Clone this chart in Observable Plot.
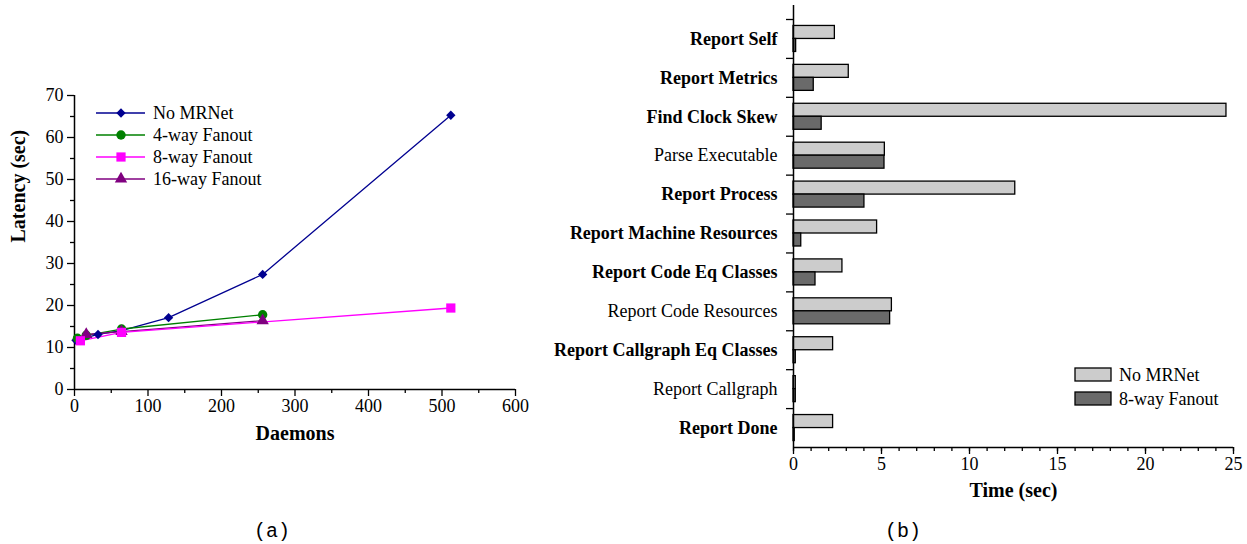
<!DOCTYPE html>
<html><head><meta charset="utf-8">
<script src="https://cdn.jsdelivr.net/npm/d3@7"></script>
<script src="https://cdn.jsdelivr.net/npm/@observablehq/plot@0.6"></script>
<style>
body{margin:0;background:#fff;}
#wrap{position:relative;width:1247px;height:544px;overflow:hidden;background:#fff;font-family:"Liberation Serif","Times New Roman",serif;}
#wrap > svg, #wrap > div{position:absolute;}
.cap{font-family:"Liberation Mono","Courier New",monospace;font-size:20px;line-height:24px;color:#000;}
</style></head><body><div id="wrap"></div>
<script>
// ---------- (a) latency vs daemons ----------
const seriesNames = ["No MRNet", "4-way Fanout", "8-way Fanout", "16-way Fanout"];
const seriesColors = ["#000090", "#008000", "#ff00ff", "#800080"];
const seriesSymbols = ["diamond2", "circle", "square", "triangle"];
const seriesSizes = [4.2, 4.7, 5.2, 4.6];
const daemonsNoMRNet = [2, 32, 64, 128, 256, 512];
const latencyNoMRNet = [11.7, 13.1, 14.0, 17.1, 27.4, 65.3];
const daemons4way = [4, 16, 64, 256];
const latency4way = [12.2, 12.9, 14.4, 17.8];
const daemons8way = [8, 64, 512];
const latency8way = [11.6, 13.6, 19.4];
const daemons16way = [16, 64, 256];
const latency16way = [13.1, 13.8, 16.4];
const latencyTicks = [0, 10, 20, 30, 40, 50, 60, 70];
const daemonTicks = [0, 100, 200, 300, 400, 500, 600];

// ---------- (b) time per phase ----------
const phases = ["Report Self", "Report Metrics", "Find Clock Skew", "Parse Executable", "Report Process",
  "Report Machine Resources", "Report Code Eq Classes", "Report Code Resources",
  "Report Callgraph Eq Classes", "Report Callgraph", "Report Done"];
const phaseBold = [true, true, true, false, true, true, true, false, true, false, true];
const timeNoMRNet = [2.35, 3.14, 24.6, 5.19, 12.6, 4.75, 2.78, 5.59, 2.25, 0.13, 2.25];
const time8way = [0.15, 1.15, 1.6, 5.17, 4.03, 0.44, 1.25, 5.49, 0.13, 0.13, 0.07];
const timeTicks = [0, 5, 10, 15, 20, 25];
const barNames = ["No MRNet", "8-way Fanout"];
const barColors = ["#cccccc", "#6a6a6a"];

const FONT = "Liberation Serif, Times New Roman, serif";
const wrap = document.getElementById("wrap");

const pts = [
  [daemonsNoMRNet, latencyNoMRNet],
  [daemons4way, latency4way],
  [daemons8way, latency8way],
  [daemons16way, latency16way]
].map(([xs, ys], s) => xs.map((x, i) => ({series: seriesNames[s], x, y: ys[i]})));

const lineMarks = [];
[0, 1, 3, 2].forEach(s => {
  lineMarks.push(Plot.line(pts[s], {x: "x", y: "y", stroke: seriesColors[s], strokeWidth: 1.3}));
});
[0, 1, 3, 2].forEach(s => {
  lineMarks.push(Plot.dot(pts[s], {x: "x", y: "y", symbol: () => seriesSymbols[s], fill: seriesColors[s], stroke: "none", r: seriesSizes[s]}));
});

const left = Plot.plot({
  width: 530, height: 460,
  marginLeft: 74, marginRight: 15, marginTop: 95, marginBottom: 71,
  style: {fontFamily: FONT, fontSize: "18px", color: "#000", background: "transparent"},
  x: {domain: [0, 600]},
  y: {domain: [0, 70]},
  symbol: {type: "identity"},
  marks: [
    Plot.axisY({ticks: latencyTicks, tickSize: 7, tickPadding: 4, label: null, fontSize: 18, strokeWidth: 1.3}),
    Plot.axisY({ticks: d3.range(5, 70, 10), tickSize: 4, text: null, label: null, strokeWidth: 1.3}),
    Plot.axisX({ticks: daemonTicks, tickSize: 7, tickPadding: 3, label: null, fontSize: 18, strokeWidth: 1.3}),
    Plot.axisX({ticks: d3.range(50, 600, 100), tickSize: 4, text: null, label: null, strokeWidth: 1.3}),
    Plot.ruleX([0], {strokeWidth: 1.5}),
    Plot.ruleY([0], {strokeWidth: 1.5}),
    ...lineMarks,
    Plot.text(["Latency (sec)"], {text: d => d, frameAnchor: "left", dx: -56, rotate: -90, fontWeight: "bold", fontSize: 20}),
    Plot.text(["Daemons"], {text: d => d, frameAnchor: "bottom", dy: 50, fontWeight: "bold", fontSize: 20})
  ]
});
left.style.left = "0px"; left.style.top = "0px";
wrap.appendChild(left);

// legend (a)
const legA = d3.create("svg").attr("width", 220).attr("height", 100)
  .style("left", "90px").style("top", "100px");
const symMap = {diamond2: d3.symbolDiamond2, circle: d3.symbolCircle, square: d3.symbolSquare, triangle: d3.symbolTriangle};
seriesNames.forEach((name, i) => {
  const cy = 13 + i * 22;
  legA.append("line").attr("x1", 6).attr("x2", 55).attr("y1", cy).attr("y2", cy)
    .attr("stroke", seriesColors[i]).attr("stroke-width", 1.3);
  legA.append("path").attr("transform", `translate(31,${cy})`)
    .attr("d", d3.symbol(symMap[seriesSymbols[i]], Math.PI * seriesSizes[i] * seriesSizes[i])())
    .attr("fill", seriesColors[i]);
  legA.append("text").attr("x", 63).attr("y", cy).attr("dy", "0.35em")
    .attr("font-family", FONT).attr("font-size", 18).text(name);
});
wrap.appendChild(legA.node());

// ---------- (b) ----------
const rows = phases.map((p, i) => ({phase: p, bold: phaseBold[i], a: timeNoMRNet[i], b: time8way[i]}));
const bw = (447 - 19) / phases.length;

const right = Plot.plot({
  width: 717, height: 520,
  marginLeft: 263, marginRight: 14, marginTop: 5, marginBottom: 73,
  style: {fontFamily: FONT, fontSize: "18px", color: "#000", background: "transparent"},
  x: {domain: [0, 25]},
  y: {type: "band", domain: phases, range: [19, 447], padding: 0, round: false, axis: null},
  marks: [
    Plot.barX(rows, {y: "phase", x1: 0, x2: "a", insetTop: bw / 2 - 13, insetBottom: bw / 2, fill: barColors[0], stroke: "#000", strokeWidth: 1.3}),
    Plot.barX(rows, {y: "phase", x1: 0, x2: "b", insetTop: bw / 2, insetBottom: bw / 2 - 13, fill: barColors[1], stroke: "#000", strokeWidth: 1.3}),
    Plot.axisX({ticks: timeTicks, tickSize: 7, tickPadding: 3, label: null, fontSize: 18, strokeWidth: 1.3}),
    Plot.axisX({ticks: d3.range(0, 26, 1), tickSize: 4, text: null, label: null, strokeWidth: 1.3}),
    Plot.ruleX([0], {strokeWidth: 1.5}),
    Plot.ruleY(phases, {y: d => d, x1: 0, x2: 0, insetLeft: -7, dy: -bw / 2, strokeWidth: 1.3}),
    Plot.ruleY([phases[phases.length - 1]], {y: d => d, x1: 0, x2: 25, dy: bw / 2, strokeWidth: 1.5}),
    Plot.text(rows.filter(d => d.bold), {y: "phase", text: "phase", frameAnchor: "left", dx: -16, textAnchor: "end", fontWeight: "bold", fontSize: 18}),
    Plot.text(rows.filter(d => !d.bold), {y: "phase", text: "phase", frameAnchor: "left", dx: -16, textAnchor: "end", fontSize: 18}),
    Plot.text(["Time (sec)"], {text: d => d, frameAnchor: "bottom", dy: 49, fontWeight: "bold", fontSize: 20})
  ]
});
right.style.left = "530px"; right.style.top = "0px";
wrap.appendChild(right);

// legend (b)
const legB = d3.create("svg").attr("width", 170).attr("height", 50)
  .style("left", "1070px").style("top", "362px");
barNames.forEach((name, i) => {
  const y0 = 6 + i * 24;
  legB.append("rect").attr("x", 5).attr("y", y0).attr("width", 36).attr("height", 13)
    .attr("fill", barColors[i]).attr("stroke", "#000").attr("stroke-width", 1.3);
  legB.append("text").attr("x", 49).attr("y", y0 + 6.5).attr("dy", "0.35em")
    .attr("font-family", FONT).attr("font-size", 18).text(name);
});
wrap.appendChild(legB.node());

// captions
const capA = document.createElement("div"); capA.className = "cap"; capA.textContent = "(a)";
capA.style.left = "254px"; capA.style.top = "520px"; wrap.appendChild(capA);
const capB = document.createElement("div"); capB.className = "cap"; capB.textContent = "(b)";
capB.style.left = "885px"; capB.style.top = "520px"; wrap.appendChild(capB);
</script></body></html>
